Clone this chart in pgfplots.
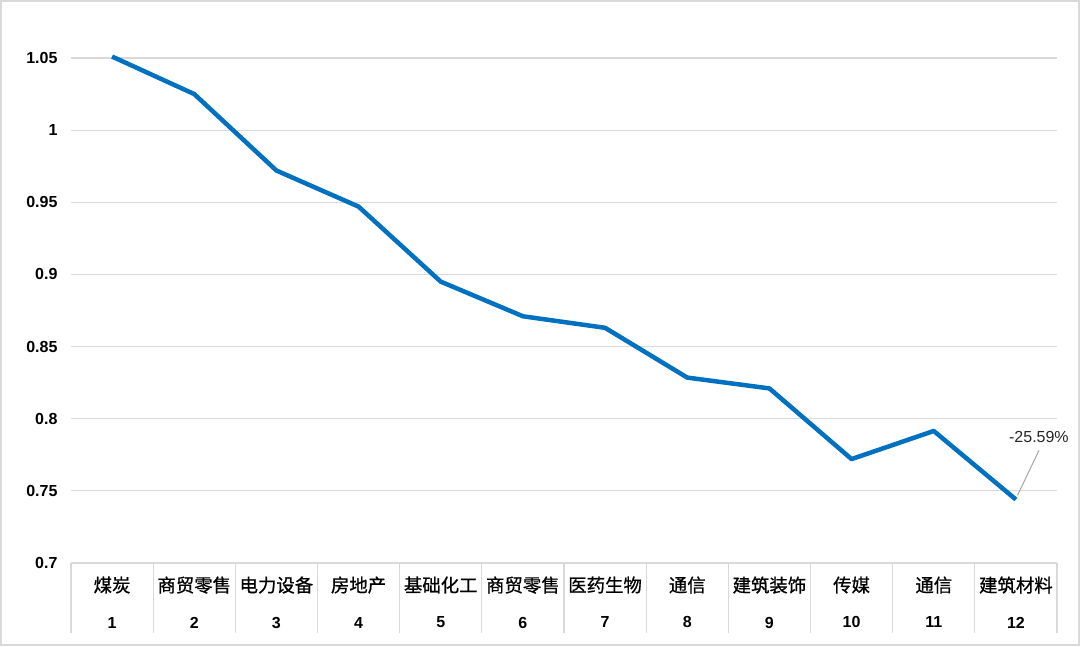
\documentclass[border=0pt]{standalone}
\usepackage{fontspec}
\setmainfont{Liberation Sans}
\newfontfamily\cjk[Scale=1.15,FakeBold=0.8]{Noto Sans CJK SC}
\usepackage{pgfplots}
\pgfplotsset{compat=1.18}
\definecolor{lineblue}{HTML}{0070C0}
\definecolor{gridgray}{HTML}{D9D9D9}

\begin{document}
\begin{tikzpicture}[x=1pt,y=1pt]
\useasboundingbox (0,0) rectangle (1080,646);
\draw[gridgray, line width=2pt] (1,1) rectangle (1079,645);
\begin{axis}[
    at={(71pt,83pt)}, anchor=origin,
    scale only axis,
    width=986pt, height=505pt,
    xmin=0.5, xmax=12.5,
    ymin=0.7, ymax=1.05,
    clip=false,
    axis line style={draw=none},
    ymajorgrids,
    grid style={gridgray, line width=1.2pt},
    major tick length=0pt,
    ytick={0.7,0.75,0.8,0.85,0.9,0.95,1,1.05},
    yticklabels={0.7,0.75,0.8,0.85,0.9,0.95,1,1.05},
    yticklabel style={font=\fontsize{16}{19}\selectfont\bfseries, anchor=east, xshift=-10pt},
    xtick={1,...,12},
    xticklabels={
      {{\cjk 煤炭}\\[17pt]{\bfseries 1}},
      {{\cjk 商贸零售}\\[17pt]{\bfseries 2}},
      {{\cjk 电力设备}\\[17pt]{\bfseries 3}},
      {{\cjk 房地产}\\[17pt]{\bfseries 4}},
      {{\cjk 基础化工}\\[17pt]{\bfseries 5}},
      {{\cjk 商贸零售}\\[17pt]{\bfseries 6}},
      {{\cjk 医药生物}\\[17pt]{\bfseries 7}},
      {{\cjk 通信}\\[17pt]{\bfseries 8}},
      {{\cjk 建筑装饰}\\[17pt]{\bfseries 9}},
      {{\cjk 传媒}\\[17pt]{\bfseries 10}},
      {{\cjk 通信}\\[17pt]{\bfseries 11}},
      {{\cjk 建筑材料}\\[17pt]{\bfseries 12}}},
    xticklabel style={font=\fontsize{16}{19}\selectfont, align=center, anchor=north, yshift=-10pt},
    extra x ticks={0.5,1.5,2.5,3.5,4.5,5.5,6.5,7.5,8.5,9.5,10.5,11.5,12.5},
    extra x tick labels={},
    extra x tick style={major tick length=70pt, tick align=outside, tick pos=bottom,
        tick style={draw=gridgray, line width=1.2pt}, grid=none},
]
\addplot[lineblue, line width=4.5pt, line join=round, mark=none] coordinates {
    (1,1.051) (2,1.025) (3,0.972) (4,0.947) (5,0.895) (6,0.871)
    (7,0.863) (8,0.8285) (9,0.821) (10,0.772) (11,0.7915) (12,0.744)
};
\draw[gray!70, line width=1pt] (axis cs:12.02,0.747) -- (axis cs:12.28,0.778);
\node[font=\fontsize{16}{19}\selectfont, text=black!85] at (axis cs:12.28,0.7874) {-25.59\%};
\end{axis}
\end{tikzpicture}
\end{document}
